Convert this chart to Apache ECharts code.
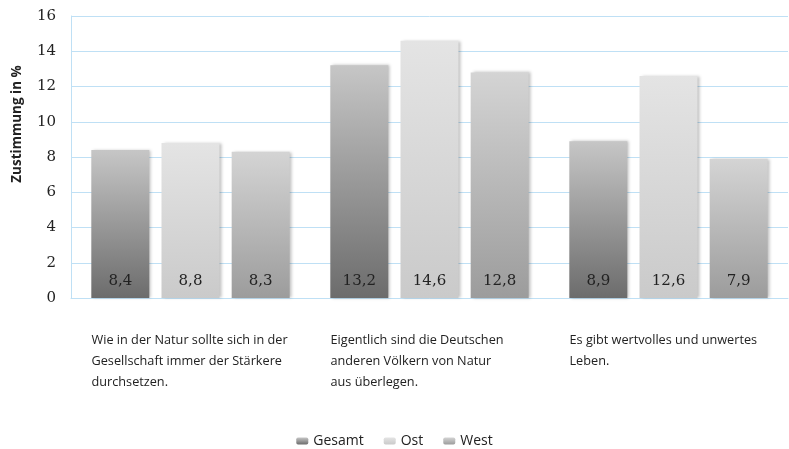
<!DOCTYPE html>
<html><head><meta charset="utf-8">
<script src="https://cdn.jsdelivr.net/npm/echarts@6/dist/echarts.min.js"></script>
<style>html,body{margin:0;padding:0;background:#fff}#c{width:789px;height:449px}</style>
</head><body><div id="c"></div>
<script>
const categories = [
  "Wie in der Natur sollte sich in der\nGesellschaft immer der Stärkere\ndurchsetzen.",
  "Eigentlich sind die Deutschen\nanderen Völkern von Natur\naus überlegen.",
  "Es gibt wertvolles und unwertes\nLeben."
];
const seriesNames = ["Gesamt", "Ost", "West"];
const gesamt = [8.4, 13.2, 8.9];
const ost = [8.8, 14.6, 12.6];
const west = [8.3, 12.8, 7.9];
const yTicks = { min: 0, max: 16, interval: 2 };
const yName = "Zustimmung in %";

function grad(top, bottom) {
  return new echarts.graphic.LinearGradient(0, 0, 0, 1, [
    { offset: 0, color: top }, { offset: 1, color: bottom }
  ]);
}
const colors = [grad('#c6c6c6', '#6c6c6c'), grad('#e4e4e4', '#cacaca'), grad('#d4d4d4', '#9c9c9c')];
const datas = [gesamt, ost, west];

const chart = echarts.init(document.getElementById('c'));
chart.setOption({
  animation: false,
  grid: { left: 71, right: 1, top: 16, bottom: 151, containLabel: false, outerBoundsMode: 'none' },
  legend: {
    bottom: 1, left: 'center', itemWidth: 12, itemHeight: 7, itemGap: 20, padding: 0,
    textStyle: { fontFamily: 'Open Sans', fontSize: 14, color: '#222' },
    data: seriesNames
  },
  xAxis: {
    type: 'category', data: categories,
    axisLine: { lineStyle: { color: '#bfe0f5' } },
    axisTick: { show: false },
    axisLabel: {
      interval: 0, margin: 32, align: 'center', verticalAlign: 'top',
      formatter: function (v) { return v.split('\n').map(s => '{a|' + s + '}').join('\n'); },
      rich: { a: { width: 198, align: 'left', fontFamily: 'Open Sans', fontSize: 12.7, lineHeight: 21, color: '#222' } }
    }
  },
  yAxis: {
    type: 'value', min: yTicks.min, max: yTicks.max, interval: yTicks.interval,
    name: yName, nameLocation: 'middle', nameGap: 47, nameRotate: 90,
    nameTextStyle: { fontFamily: 'Open Sans', fontWeight: 'bold', fontSize: 13.5, color: '#222', padding: [0, 0, 0, 66] },
    axisLine: { show: true, lineStyle: { color: '#bfe0f5' } },
    axisTick: { show: false },
    splitLine: { lineStyle: { color: '#bfe0f5' } },
    axisLabel: { margin: 15, fontFamily: 'DejaVu Serif', fontSize: 15, color: '#222' }
  },
  series: seriesNames.map((n, i) => ({
    name: n, type: 'bar', data: datas[i],
    barWidth: 58, barGap: '21%', barCategoryGap: '17%',
    itemStyle: { color: colors[i], shadowColor: 'rgba(0,0,0,0.25)', shadowBlur: 3, shadowOffsetX: 2 },
    label: {
      show: true, position: 'insideBottom', distance: 9,
      formatter: p => String(p.value).replace('.', ','),
      fontFamily: 'DejaVu Serif', fontSize: 15, color: '#222'
    }
  }))
});
</script></body></html>
